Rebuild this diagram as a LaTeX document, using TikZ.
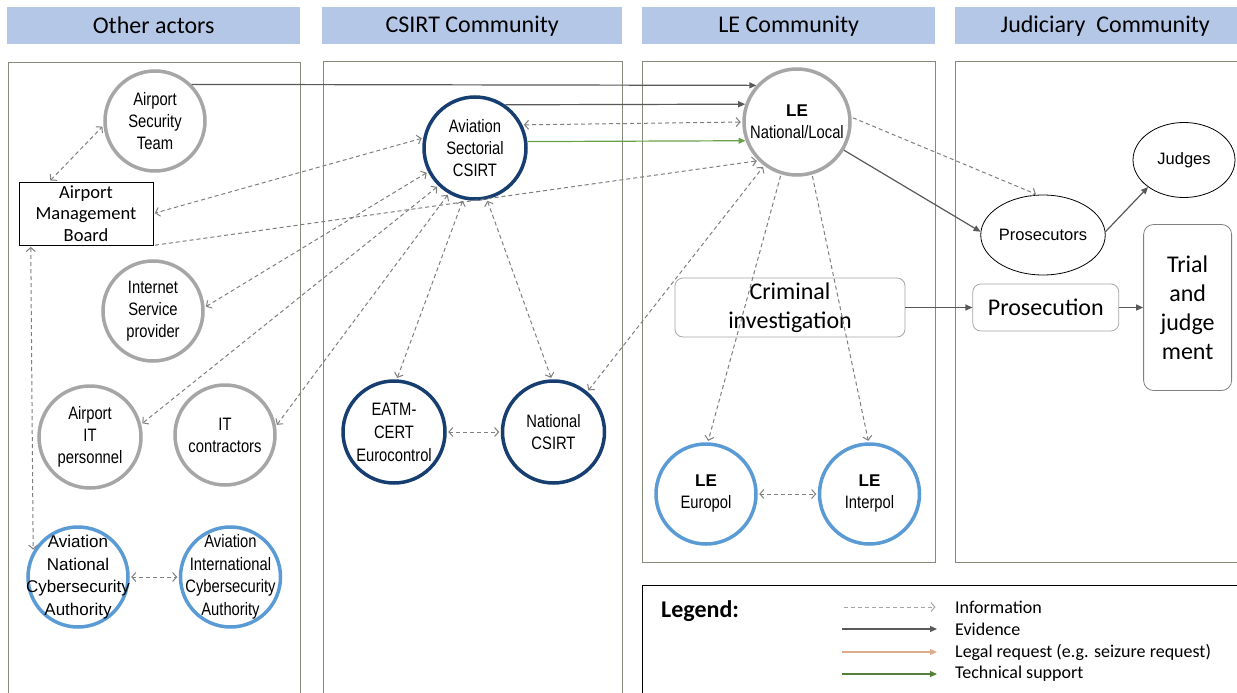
\documentclass[tikz,border=0pt]{standalone}
\usepackage{fontspec}
\setmainfont{Carlito}
\newfontfamily\arialfont{Liberation Sans}
\newfontfamily\narrowfont[FakeStretch=0.82]{Liberation Sans}
\usepackage{xcolor}
\definecolor{headblue}{RGB}{180,199,231}
\definecolor{panelgray}{RGB}{135,138,122}
\definecolor{ringgray}{RGB}{166,166,166}
\definecolor{ringnavy}{RGB}{22,62,112}
\definecolor{ringblue}{RGB}{91,155,213}
\definecolor{infogray}{RGB}{127,127,127}
\definecolor{evidgray}{RGB}{89,89,89}
\definecolor{legaltan}{RGB}{222,172,140}
\definecolor{techgreen}{RGB}{106,160,72}
\usepackage{tikz}
\usetikzlibrary{arrows.meta,positioning,shapes.geometric}

\begin{document}
\begin{tikzpicture}[x=1pt,y=-1pt]
  \tikzstyle{header}=[rectangle,fill=headblue,anchor=north west,minimum height=37pt,inner sep=0pt,font=\fontsize{24}{29}\selectfont]
  \tikzstyle{panel}=[draw=panelgray,line width=1pt]
  \tikzstyle{actor}=[circle,draw=ringgray,fill=white,line width=3.5pt,minimum size=100pt,inner sep=0pt,align=center,font=\narrowfont\fontsize{18}{22}\selectfont]
  \tikzstyle{csirt}=[actor,draw=ringnavy,minimum size=102pt]
  \tikzstyle{auth}=[actor,draw=ringblue]
  \tikzstyle{stagebox}=[rectangle,draw=gray!70,line width=0.8pt,rounded corners=8pt,align=center,inner sep=0pt,font=\fontsize{24}{29}\selectfont]
  \tikzstyle{judicial}=[ellipse,draw=black,line width=0.8pt,inner sep=0pt,font=\arialfont\fontsize{16.5}{20}\selectfont]
  \tikzstyle{info}=[infogray,line width=1pt,dash pattern=on 4pt off 3pt,>={Straight Barb[length=4pt,width=9pt]},shorten <=1.5pt,shorten >=1.5pt]
  \tikzstyle{evid}=[evidgray,line width=1.2pt,>={Triangle[length=7pt,width=6pt]}]
  \tikzstyle{tech}=[evid,techgreen]
  \tikzstyle{legal}=[evid,legaltan]
  \tikzstyle{legtext}=[anchor=west,inner sep=0pt,font=\fontsize{18}{22}\selectfont]

  \fill[white] (0,0) rectangle (1237,693);
  \useasboundingbox (0,0) rectangle (1237,693);

  \node[header,minimum width=293pt] (hother) at (7,7) {Other actors};
  \node[header,minimum width=300pt] (hcsirt) at (322,7) {CSIRT Community};
  \node[header,minimum width=293pt] (hle) at (642,7) {LE Community};
  \node[header,minimum width=300pt] (hjud) at (955,7) {Judiciary\ \ Community};
  \draw[panel] (8,63) rectangle (300,710);
  \draw[panel] (323,62) rectangle (622,710);
  \draw[panel] (642,62) rectangle (935,562);
  \draw[panel] (955,62) rectangle (1250,562);
  \draw[black,line width=0.8pt] (642,585) rectangle (1250,710);

  \node[actor] (ast) at (155,121) {Airport\\Security\\Team};
  \node[rectangle,draw=black,line width=0.8pt,minimum width=134pt,minimum height=63pt,inner sep=0pt,align=center,font=\fontsize{18.5}{21.5}\selectfont] (amb) at (86,213.5) {Airport\\Management\\Board};
  \node[actor] (isp) at (153,311) {Internet\\Service\\provider};
  \node[actor,minimum size=102pt] (aitp) at (90,437) {Airport\\IT\\personnel};
  \node[actor] (itc) at (225,435) {IT\\contractors};
  \node[auth,inner sep=-22pt,font=\arialfont\fontsize{17}{22.5}\selectfont] (ancsa) at (78,577) {Aviation\\National\\Cybersecurity\\Authority};
  \node[auth,inner sep=-22pt,right=49pt of ancsa,font=\narrowfont\fontsize{18}{22.5}\selectfont] (aicsa) {Aviation\\International\\Cybersecurity\\Authority};

  \node[csirt] (ascsirt) at (475,148) {Aviation\\Sectorial\\CSIRT};
  \node[csirt,font=\narrowfont\fontsize{18}{23}\selectfont] (eatm) at (394,432) {EATM-\\CERT\\Eurocontrol};
  \node[csirt,right=54pt of eatm] (ncsirt) {National\\CSIRT};

  \node[actor,minimum size=106pt] (lenat) at (797,122) {{\arialfont\bfseries\fontsize{17}{22}\selectfont LE}\\National/Local};
  \node[stagebox] (crim) at (790,307.5) [minimum width=230pt,minimum height=59pt] {Criminal\\investigation};
  \node[auth] (europol) at (706,494) {{\arialfont\bfseries\fontsize{17}{22}\selectfont LE}\\Europol};
  \node[auth,right=60pt of europol] (interpol) {{\arialfont\bfseries\fontsize{17}{22}\selectfont LE}\\Interpol};

  \node[judicial,minimum width=102pt,minimum height=75pt] (judges) at (1184,160) {Judges};
  \node[judicial,minimum width=97pt,minimum height=80pt] (prosecutors) at (1043,235) {Prosecutors};
  \node[stagebox,right=67pt of crim,minimum width=146pt,minimum height=47pt] (prosecution) {Prosecution};
  \node[stagebox,draw=gray,right=24pt of prosecution,minimum width=88pt,minimum height=166pt,rounded corners=10pt] (trial) {Trial\\and\\judge\\ment};

  \draw[evid,->] (ast.45) -- (lenat.138);
  \draw[evid,->] (ascsirt.55) -- (lenat.161);
  \draw[info,<->] (ascsirt.26) -- (lenat.180);
  \draw[tech,->] (ascsirt.7) -- (lenat.200);
  \draw[info,->] (amb.south east) -- (lenat.225);
  \draw[info,<->] (ncsirt.50) -- (lenat.233);
  \draw[info,->] (lenat.5) -- (prosecutors.98);
  \draw[evid,->] (lenat.329) -- (prosecutors.177);
  \draw[evid,->] (prosecutors.3) -- (judges.217);
  \draw[evid,->] (crim) -- (prosecution);
  \draw[evid,->] (prosecution) -- (trial);
  \draw[info,->] (lenat.253) -- (europol.88);
  \draw[info,->] (lenat.286) -- (interpol.91);
  \draw[info,<->] (europol) -- (interpol);
  \draw[info,<->] (ascsirt.283) -- (ncsirt.92);
  \draw[info,<->] (ascsirt.257) -- (eatm.87);
  \draw[info,<->] (eatm) -- (ncsirt);
  \draw[info,<->] (ascsirt.169) -- (amb.east);
  \draw[info,<->] (ascsirt.207) -- (isp.4);
  \draw[info,<->] (ascsirt.226) -- (aitp.14);
  \draw[info,<->] (ascsirt.240) -- (itc.10);
  \draw[info,<->] (amb.139) -- (ast.185);
  \draw[info,<->] (amb.210) -- (ancsa.150);
  \draw[info,<->] (ancsa) -- (aicsa);

  \node[anchor=west,inner sep=0pt,font=\bfseries\fontsize{24}{29}\selectfont] (legend) at (661,611) {Legend:};
  \node[legtext] (tinfo) at (955,607) {Information};
  \node[legtext] (tevid) at (955,629) {Evidence};
  \node[legtext] (tlegal) at (955,652) {Legal request (e.g. seizure request)};
  \node[legtext] (ttech) at (955,674) {Technical support};
  \coordinate (info0) at (842,607);
  \coordinate (info1) at (937,607);
  \coordinate (evid0) at (842,629);
  \coordinate (evid1) at (937,629);
  \coordinate (legal0) at (842,652);
  \coordinate (legal1) at (937,652);
  \coordinate (tech0) at (842,674);
  \coordinate (tech1) at (937,674);
  \draw[info,->,infogray!70] (info0) -- (info1);
  \draw[evid,->] (evid0) -- (evid1);
  \draw[legal,->] (legal0) -- (legal1);
  \draw[tech,->,techgreen!80!black] (tech0) -- (tech1);
\end{tikzpicture}
\end{document}
